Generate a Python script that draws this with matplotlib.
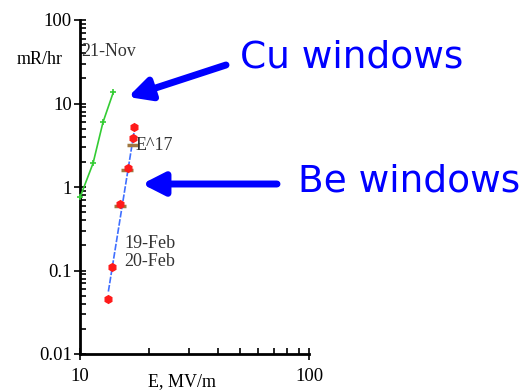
import matplotlib
matplotlib.use("Agg")
import matplotlib.pyplot as plt
import numpy as np
from matplotlib.ticker import LogLocator, NullFormatter, FixedLocator, FixedFormatter

# Dark-current dose rate vs. surface field
cu_E = [10.0, 11.4, 12.6, 14.0]          # MV/m, 21-Nov (Cu windows)
cu_R = [0.75, 1.92, 5.96, 13.8]          # mR/hr

be_E = [13.3, 13.85, 14.95, 16.15, 17.1, 17.2]   # MV/m, 19/20-Feb (Be windows)
be_R = [0.045, 0.109, 0.62, 1.70, 3.83, 5.19]

feb19_E = [14.95, 16.1, 17.0]
feb19_R = [0.60, 1.62, 3.18]

fit_power = 17
fit_E = [13.3, 17.2]
fit_R0 = 0.056                           # fit value at fit_E[0]

x_ticks = [10, 100]
y_ticks = [0.01, 0.1, 1, 10, 100]
y_tick_labels = ["0.01", "0.1", "1", "10", "100"]

W, H = 523, 391
fig = plt.figure(figsize=(W / 100, H / 100), dpi=100)
ax = fig.add_axes([80 / W, (H - 354) / H, (309 - 80) / W, (354 - 20) / H])

serif = "Liberation Serif"

# power-law fit E^17
fE = np.linspace(fit_E[0], fit_E[1], 50)
fR = fit_R0 * (fE / fit_E[0]) ** fit_power
ax.plot(fE, fR, color="#3f6fff", lw=1.2, ls=(0, (4, 1)), zorder=2)

ax.plot(cu_E, cu_R, color="#33cc33", lw=1.2, marker="+", ms=4, mew=1.2, zorder=3, clip_on=False)
ax.plot(feb19_E, feb19_R, ls="none", marker="_", ms=9, mew=2.5, color="#a07840", zorder=3)
ax.plot(be_E, be_R, ls="none", marker="h", ms=5.5, color="#ff1a1a", mec="#ff1a1a", zorder=4)

ax.set_xscale("log")
ax.set_yscale("log")
ax.set_xlim(10, 100)
ax.set_ylim(0.01, 100)

for s in ("top", "right"):
    ax.spines[s].set_visible(False)
for s in ("left", "bottom"):
    ax.spines[s].set_linewidth(2)

ax.xaxis.set_major_locator(FixedLocator(x_ticks))
ax.xaxis.set_major_formatter(FixedFormatter([str(v) for v in x_ticks]))
ax.xaxis.set_minor_locator(LogLocator(base=10, subs=np.arange(2, 10)))
ax.xaxis.set_minor_formatter(NullFormatter())
ax.yaxis.set_major_locator(FixedLocator(y_ticks))
ax.yaxis.set_major_formatter(FixedFormatter(y_tick_labels))
ax.yaxis.set_minor_locator(LogLocator(base=10, subs=np.arange(2, 10)))
ax.yaxis.set_minor_formatter(NullFormatter())

ax.tick_params(axis="both", which="major", direction="inout", length=8, width=1.2,
               labelsize=13.5, colors="black", pad=2)
ax.tick_params(axis="both", which="minor", direction="in", length=4, width=1.2)
ax.tick_params(axis="x", which="major", pad=6)
for lab in ax.get_xticklabels() + ax.get_yticklabels():
    lab.set_fontfamily(serif)

ax.text(40 / W, 1 - 60 / H, "mR/hr", transform=fig.transFigure, fontsize=13,
        family=serif, ha="center", va="center")
ax.text(182 / W, 1 - 382 / H, "E, MV/m", transform=fig.transFigure, fontsize=13,
        family=serif, ha="center", va="center")

tc = "#333333"
ax.text(81 / W, 1 - 52 / H, "21-Nov", transform=fig.transFigure, fontsize=13,
        family=serif, ha="left", va="center", color=tc)
ax.text(136 / W, 1 - 145 / H, "E^17", transform=fig.transFigure, fontsize=13,
        family=serif, ha="left", va="center", color=tc)
ax.text(124 / W, 1 - 243 / H, "19-Feb", transform=fig.transFigure, fontsize=13,
        family=serif, ha="left", va="center", color=tc)
ax.text(124 / W, 1 - 261 / H, "20-Feb", transform=fig.transFigure, fontsize=13,
        family=serif, ha="left", va="center", color=tc)

# annotation arrows and labels
blue = "#0000ff"
arrow_style = "-|>,head_length=5.5,head_width=2.8"
fig.patches.append(matplotlib.patches.FancyArrowPatch(
    (226 / W, 1 - 65 / H), (128 / W, 1 - 97 / H), transform=fig.transFigure,
    arrowstyle=arrow_style, lw=5, color=blue, mutation_scale=2.4,
    shrinkA=0, shrinkB=0))
fig.patches.append(matplotlib.patches.FancyArrowPatch(
    (277 / W, 1 - 184 / H), (142 / W, 1 - 184 / H), transform=fig.transFigure,
    arrowstyle=arrow_style, lw=5, color=blue, mutation_scale=2.4,
    shrinkA=0, shrinkB=0))

fig.text(240 / W, 1 - 58 / H, "Cu windows", fontsize=27, color=blue,
         family="DejaVu Sans", ha="left", va="center")
fig.text(298 / W, 1 - 182 / H, "Be windows", fontsize=27, color=blue,
         family="DejaVu Sans", ha="left", va="center")

fig.savefig("out.png", dpi=100)
